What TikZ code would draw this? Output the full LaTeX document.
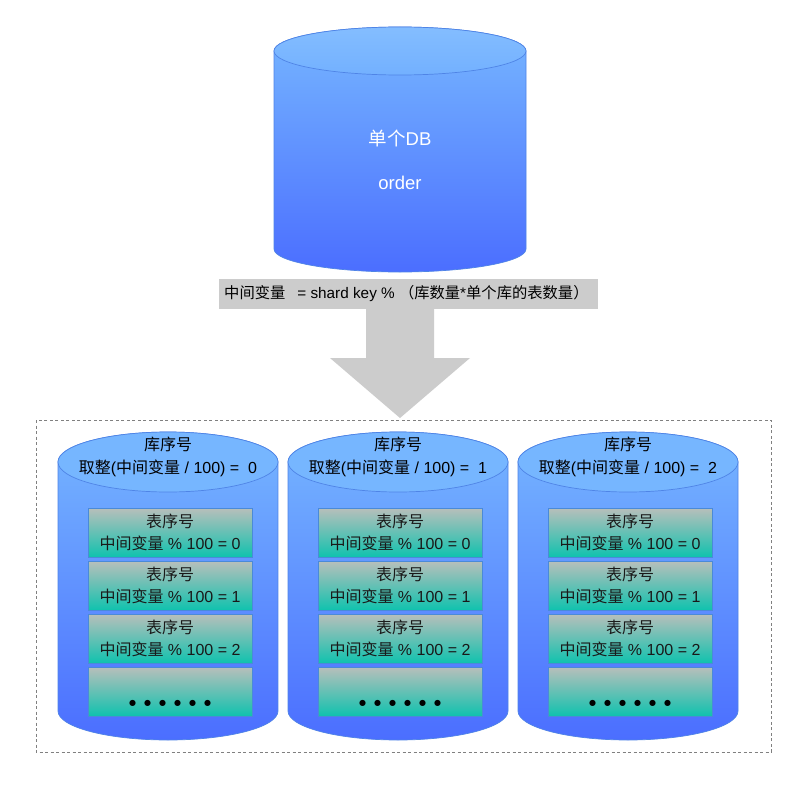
\documentclass[tikz,border=0pt]{standalone}
\usepackage{fontspec}
\setmainfont{Liberation Sans}
\newfontfamily\cjk{Noto Sans CJK SC}
\newfontfamily\dotfont{DejaVu Sans}
\definecolor{dbtop}{HTML}{76B6FF}
\definecolor{dbbot}{HTML}{4B6EFF}
\definecolor{cylborder}{HTML}{4F84E6}
\definecolor{tboxtop}{HTML}{B8BFBB}
\definecolor{tboxbot}{HTML}{10C2AE}
\definecolor{tborder}{HTML}{4A8AD8}
\definecolor{grayband}{HTML}{CCCCCC}
\definecolor{dashgray}{HTML}{808080}
\newcommand{\onedot}{\makebox[15pt]{\dotfont\fontsize{8}{8}\selectfont ●}}
\begin{document}
\begin{tikzpicture}[x=1pt,y=1pt,
  cylline/.style={draw=cylborder,line width=0.7pt},
  dbtext/.style={text=white,font=\fontsize{18.5}{22}\selectfont,inner sep=0pt},
  libtext/.style={align=center,font=\fontsize{16}{23}\selectfont,inner sep=0pt,text=black},
  tbox/.style={draw=tborder,line width=0.8pt,top color=tboxtop,bottom color=tboxbot,
    minimum width=164pt,minimum height=49pt,inner sep=0pt,align=center,
    font=\fontsize{16}{22}\selectfont,text=black!90},
  grayfill/.style={fill=grayband,draw=none}]
\useasboundingbox (0,0) rectangle (800,-800);
\fill[white] (0,0) rectangle (800,-800);
% top cylinder
\path[cylline,top color=dbtop,bottom color=dbbot]
  (274,-51) -- (274,-249) arc[start angle=180,end angle=360,x radius=126,y radius=23]
  -- (526,-51) arc[start angle=0,end angle=180,x radius=126,y radius=24] -- cycle;
\path[cylline,top color=dbtop!90!white,bottom color=dbtop!92!dbbot] (400,-51) ellipse[x radius=126,y radius=24];
\node[dbtext] (dbname) at (400,-138) {{\cjk 单个}DB};
\node[dbtext] (dborder) at (400,-183) {order};
% formula band
\node[grayfill,anchor=north west,minimum width=379pt,minimum height=30pt,inner sep=0pt] (band) at (219,-279) {};
\node[anchor=west,inner sep=0pt,font=\fontsize{15.3}{17}\selectfont,text=black] (formula) at (224,-294)
  {{\cjk 中间变量}\hspace{12pt}= shard key \% {\cjk （库数量}*{\cjk 单个库的表数量）}};
% big arrow
\fill[grayband] (366,-309) -- (434,-309) -- (434,-358) -- (470,-358) -- (400,-418)
  -- (330,-358) -- (366,-358) -- cycle;
% dashed frame
\draw[dashgray,line width=0.6pt,dash pattern=on 3pt off 2.5pt] (36,-420) rectangle (771,-752);
% lower cylinders
\foreach \i in {0,1,2} {
  \pgfmathsetmacro\cx{168+230*\i}
  \path[cylline,top color=dbtop,bottom color=dbbot]
    (\cx-110,-462) -- (\cx-110,-711) arc[start angle=180,end angle=360,x radius=110,y radius=29]
    -- (\cx+110,-462) arc[start angle=0,end angle=180,x radius=110,y radius=30] -- cycle;
  \path[cylline,fill=dbtop] (\cx,-462) ellipse[x radius=110,y radius=30];
  \node[libtext] (lib\i) at (\cx,-456.5) {{\cjk 库序号}\\{\cjk 取整}({\cjk 中间变量} / 100) =\ \ \i};
  \foreach \j in {0,1,2} {
    \node[tbox] (t\i-\j) at (\cx+2,-532.5-53*\j) {{\cjk 表序号}\\{\cjk 中间变量} \% 100 = \j};
  }
  \node[tbox] (t\i-3) at (\cx+2,-691.5) {};
  \node[inner sep=0pt] (dots\i) at (\cx+2,-703) {\onedot\onedot\onedot\onedot\onedot\onedot};
}
\end{tikzpicture}
\end{document}
